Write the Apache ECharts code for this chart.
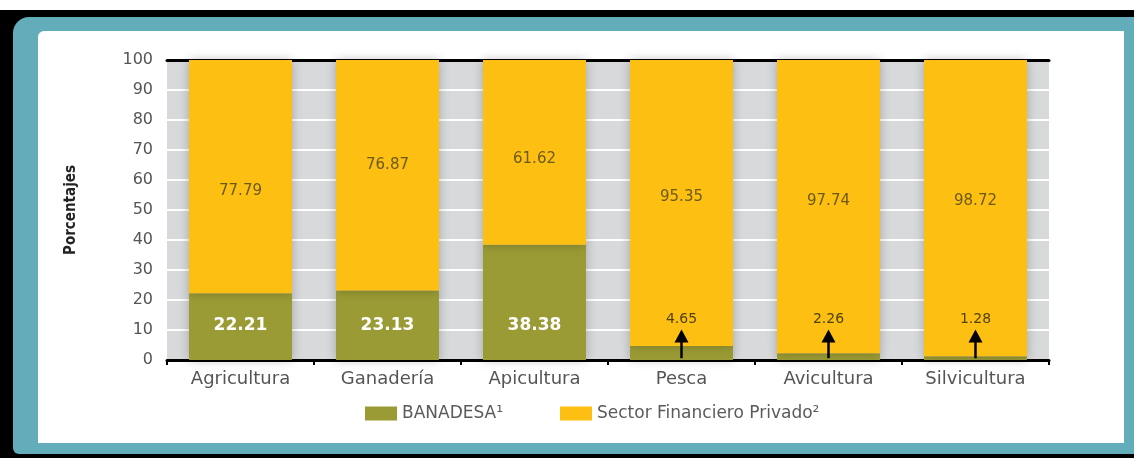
<!DOCTYPE html>
<html lang="es">
<head>
    <meta charset="UTF-8">
    <title>BANADESA vs Sector Financiero Privado</title>
    <script src="https://cdnjs.cloudflare.com/ajax/libs/echarts/6.0.0/echarts.min.js"></script>
    <style>
      body { margin: 0; background: #fff; }
      #wrap { position: relative; width: 1134px; height: 458px; overflow: hidden; }
      .frame { position: absolute; }
      #black { left: 0; top: 10px; width: 1134px; height: 448px; background: #000; }
      #teal { left: 13px; top: 17px; width: 1121px; height: 437px; background: #62adb9; border-radius: 16px 0 0 6px; }
      #white { left: 38px; top: 31px; width: 1086px; height: 412px; background: #fff; border-radius: 6px 0 0 0; }
      #chart { position: absolute; left: 0; top: 0; }
    </style>
</head>
<body>
  <div id="wrap">
    <div class="frame" id="black"></div>
    <div class="frame" id="teal"></div>
    <div class="frame" id="white"></div>
    <div id="chart" style="width:1134px; height:458px;"></div>
  </div>
  <script>
   // datos
   var categories = ["Agricultura", "Ganadería", "Apicultura", "Pesca", "Avicultura", "Silvicultura"];
   var banadesa = [22.21, 23.13, 38.38, 4.65, 2.26, 1.28];
   var privado = [77.79, 76.87, 61.62, 95.35, 97.74, 98.72];
   var yTicks = [0, 10, 20, 30, 40, 50, 60, 70, 80, 90, 100];

   // ajuste vertical de las etiquetas amarillas (px)
   var privLabelShift = [14, -10, 7, -6, -6, -7];

   var green = "#9b9b35";
   var yellow = "#fdbf11";
   var font = "DejaVu Sans";

   var greenData = banadesa.map(function (v) {
     var small = v < 10;
     return {
       value: v,
       label: small
         ? { color: "#4f420f", fontWeight: "normal", fontSize: 14, distance: 34 }
         : { color: "#ffffff", fontWeight: "bold", fontSize: 17, distance: 26 }
     };
   });
   var yellowData = privado.map(function (v, i) {
     return { value: v, label: { offset: [0, privLabelShift[i]] } };
   });
   // flechas para los valores pequeños
   var arrows = [];
   banadesa.forEach(function (v, i) {
     if (v < 10) arrows.push([{ coord: [categories[i], 0.6] }, { coord: [categories[i], 8] }]);
   });

   var myChart = echarts.init(document.getElementById("chart"));
   var option = {
     animation: false,
     grid: {
       left: 167, right: 85, top: 60, bottom: 98,
       show: true, backgroundColor: "#d8d9db", borderWidth: 0
     },
     legend: {
       left: 360, top: 400,
       icon: "rect",
       itemWidth: 32, itemHeight: 14, itemGap: 57,
       textStyle: { fontFamily: font, fontSize: 17, color: "#5a5a5a" },
       data: ["BANADESA¹", "Sector Financiero Privado²"]
     },
     xAxis: [{
       type: "category",
       data: categories,
       axisLine: { lineStyle: { color: "#000", width: 3 } },
       axisTick: { show: true, length: 5, lineStyle: { color: "#000", width: 2 } },
       axisLabel: { margin: 10, fontFamily: font, fontSize: 18, color: "#555" }
     }, {
       type: "category",
       position: "top",
       data: categories,
       axisLine: { lineStyle: { color: "#000", width: 3 } },
       axisTick: { show: false },
       axisLabel: { show: false }
     }],
     yAxis: {
       type: "value",
       min: yTicks[0], max: yTicks[yTicks.length - 1], interval: 10,
       name: "Porcentajes",
       nameLocation: "middle",
       nameRotate: 90,
       nameGap: 88,
       nameTextStyle: { fontFamily: "DejaVu Sans Condensed", fontWeight: "bold", fontSize: 15, color: "#222" },
       axisLine: { show: false },
       axisTick: { show: false },
       axisLabel: { margin: 14, fontFamily: font, fontSize: 16, color: "#555" },
       splitLine: { lineStyle: { color: "#ffffff", width: 2 } }
     },
     series: [{
       name: "BANADESA¹",
       type: "bar",
       stack: "total",
       barWidth: 103,
       data: greenData,
       itemStyle: { color: green, shadowBlur: 10, shadowColor: "rgba(0,0,0,0.25)" },
       label: { show: true, position: "insideBottom", fontFamily: font },
       markLine: {
         silent: true,
         symbol: ["none", "triangle"],
         symbolSize: [14, 13],
         label: { show: false },
         lineStyle: { color: "#000", width: 2.5, type: "solid" },
         data: arrows
       }
     }, {
       name: "Sector Financiero Privado²",
       type: "bar",
       stack: "total",
       barWidth: 103,
       data: yellowData,
       itemStyle: { color: yellow, shadowBlur: 10, shadowColor: "rgba(0,0,0,0.25)" },
       label: { show: true, position: "inside", fontFamily: font, fontSize: 15, color: "#6b5a1c" }
     }]
   };
   myChart.setOption(option);
  </script>
</body>
</html>
